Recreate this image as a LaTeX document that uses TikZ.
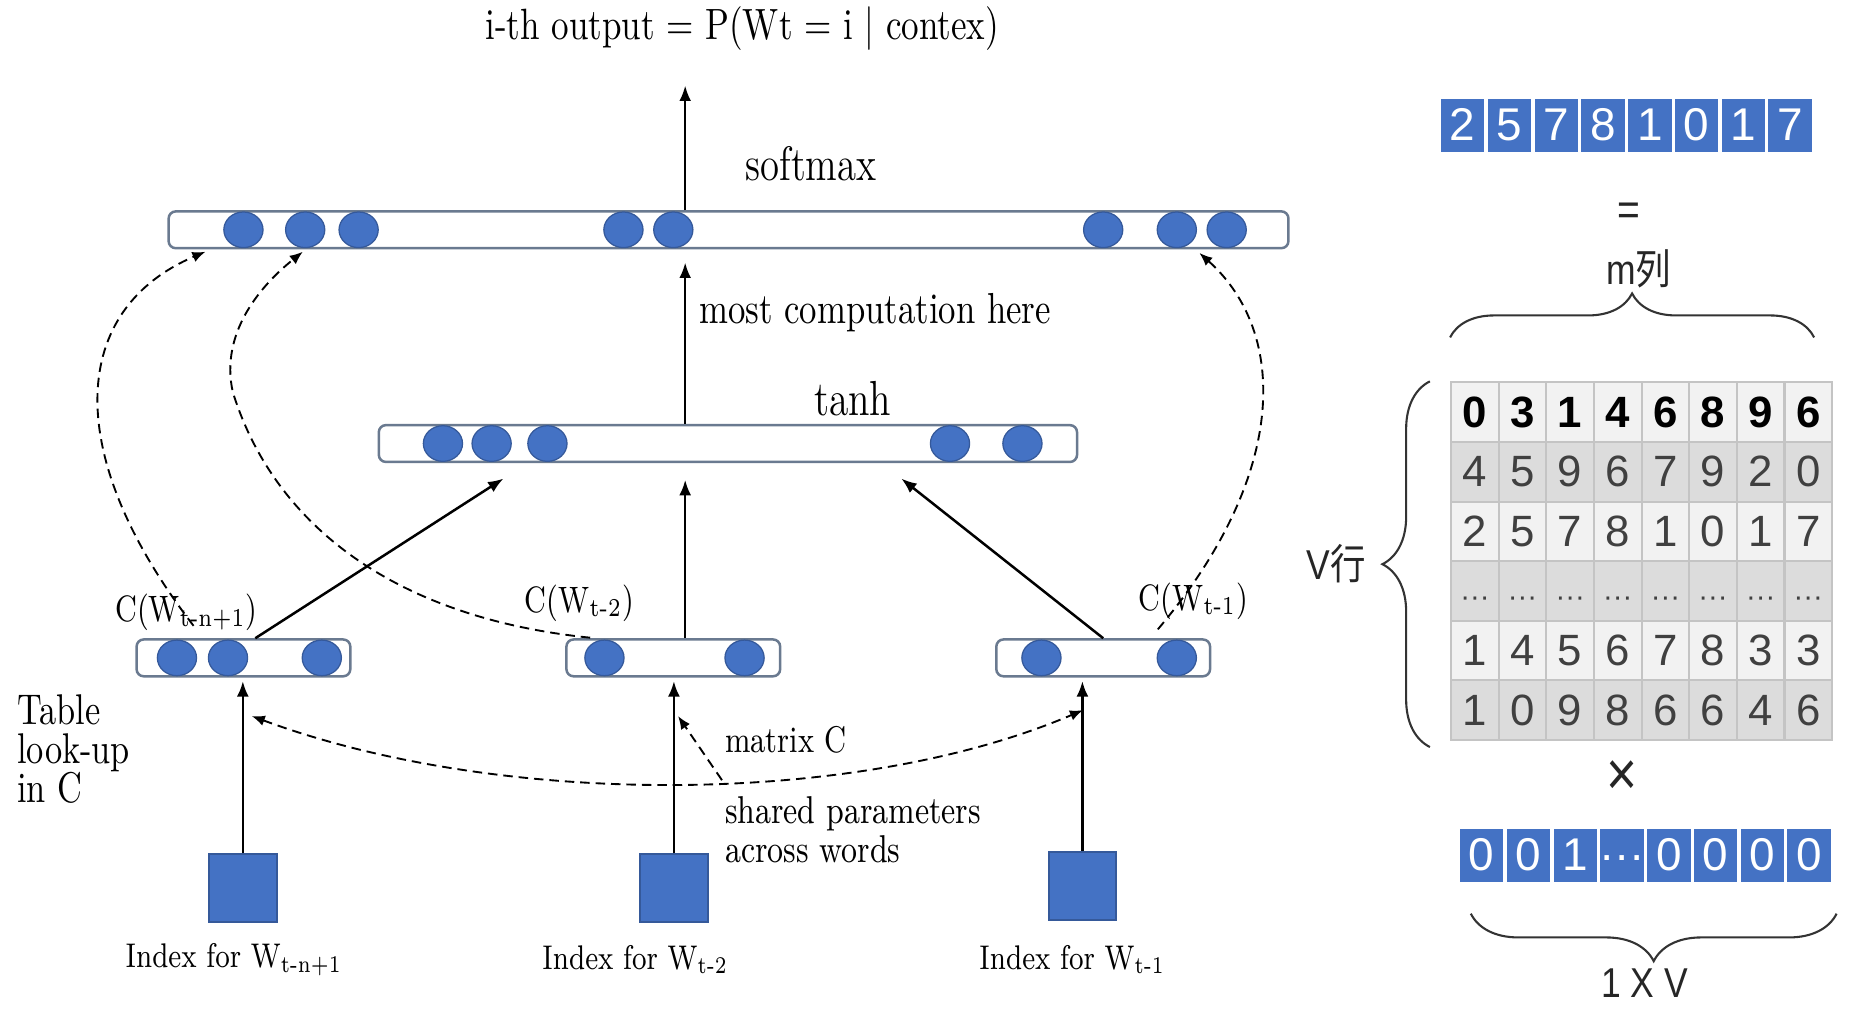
\documentclass[tikz,border=0pt]{standalone}
\usepackage{fontspec}
\newfontfamily\sansf{Liberation Sans}
\newfontfamily\cjk{Noto Sans CJK SC}
\usetikzlibrary{shapes.geometric}
\usetikzlibrary{positioning}
\usetikzlibrary{arrows.meta}
\usetikzlibrary{decorations.pathreplacing}
\definecolor{nodeblue}{HTML}{4472C4}
\definecolor{edgeblue}{HTML}{35599A}
\definecolor{barline}{HTML}{6A7A90}
\definecolor{rowlight}{HTML}{F2F2F2}
\definecolor{rowdark}{HTML}{DCDCDC}
\definecolor{gridgray}{HTML}{C4C4C4}
\definecolor{textgray}{HTML}{404040}
\tikzset{
    unitnode/.style = {ellipse, draw=edgeblue, line width=0.3pt, fill=nodeblue, minimum width=3.3mm, minimum height=3.0mm, inner sep=0pt},
    barnode/.style = {rectangle, rounded corners=0.6mm, draw=barline, line width=0.6pt, fill=white, inner sep=0pt, minimum height=3.1mm},
    sqnode/.style = {rectangle, draw=edgeblue, line width=0.5pt, fill=nodeblue, minimum size=5.7mm, inner sep=0pt},
    cellb/.style = {rectangle, draw=white, line width=0.8pt, fill=nodeblue, minimum width=3.94mm, minimum height=4.7mm, inner sep=0pt, text height=0.72em, text depth=0pt, text=white, font=\sansf\fontsize{11}{11}\selectfont},
    cellm/.style = {rectangle, draw=gridgray, line width=0.5pt, minimum width=4.01mm, minimum height=5.02mm, inner sep=0pt, text height=0.72em, text depth=0pt, text=textgray, font=\sansf\fontsize{10.5}{10.5}\selectfont},
    lbl/.style = {inner sep=0pt, xscale=0.8, font=\fontsize{10}{10}\selectfont},
    slbl/.style = {inner sep=0pt, xscale=0.85, text=black!85, font=\sansf\fontsize{10}{10}\selectfont},
    edgea/.style = {-{Latex[length=1.3mm,width=1mm]}, line width=0.6pt, black},
    edged/.style = {-{Latex[length=1.1mm,width=0.9mm]}, line width=0.45pt, black, dash pattern=on 0.8mm off 0.5mm},
    bracen/.style = {decorate, decoration={brace, amplitude=#1}, line width=0.5pt, black!80}
}

\begin{document}
\begin{tikzpicture}[x=0.1mm, y=-0.1mm]
\useasboundingbox (0,0) rectangle (1568,850.5);

% layers
\node[barnode, minimum width=94.3mm] (soft) at (613.5,193.5) {};
\node[barnode, minimum width=58.8mm] (tanh) at (613,373.5) {};
\node[barnode, minimum width=18mm] (e1) at (205,554) {};
\node[barnode, minimum width=18mm] (e2) at (567,554) {};
\node[barnode, minimum width=18mm] (e3) at (929,554) {};
\foreach \x [count=\i] in {205,257,302,525,567,929,991,1033}
    \node[unitnode] (s\i) at (\x,193.5) {};
\foreach \x [count=\i] in {373,414,461,800,861}
    \node[unitnode] (h\i) at (\x,373.5) {};
\foreach \x/\n in {149/a1,192/a2,271/a3,509/b1,627/b2,877/c1,991/c2}
    \node[unitnode] (\n) at (\x,554) {};
\node[sqnode] (w1) at (204.5,748) {};
\node[sqnode] (w2) at (567.5,748) {};
\node[sqnode] (w3) at (911.5,746) {};

% texts
\node[lbl, font=\fontsize{10.5}{10.5}\selectfont] (title) at (625,24) {i-th output = P(Wt = i | contex)};
\node[lbl, font=\fontsize{11.6}{11.6}\selectfont] (lsoft) at (683,138) {softmax};
\node[lbl, font=\fontsize{10.4}{10.4}\selectfont] (lmost) at (737,263) {most computation here};
\node[lbl, font=\fontsize{11.8}{11.8}\selectfont] (ltanh) at (718,336) {tanh};
\node[lbl, font=\fontsize{8.8}{8.8}\selectfont] (ce1) at (157,516) {C(W\textsubscript{t-n+1})};
\node[lbl, font=\fontsize{8.8}{8.8}\selectfont] (ce2) at (488,508) {C(W\textsubscript{t-2})};
\node[lbl, font=\fontsize{8.8}{8.8}\selectfont] (ce3) at (1005,506) {C(W\textsubscript{t-1})};
\node[lbl, align=left, anchor=north west, font=\fontsize{10.3}{9.4}\selectfont] (ltable) at (14,584) {Table\\look-up\\in C};
\node[lbl, anchor=west, font=\fontsize{8.9}{8.9}\selectfont] (lmat) at (610,623) {matrix C};
\node[lbl, align=left, anchor=north west, font=\fontsize{9.3}{7.9}\selectfont] (lshared) at (610,670) {shared parameters\\across words};
\node[lbl, font=\fontsize{8.2}{8.2}\selectfont] (i1) at (197,808) {Index for W\textsubscript{t-n+1}};
\node[lbl, font=\fontsize{8.2}{8.2}\selectfont] (i2) at (535,808) {Index for W\textsubscript{t-2}};
\node[lbl, font=\fontsize{8.2}{8.2}\selectfont] (i3) at (903,808) {Index for W\textsubscript{t-1}};

% solid arrows
\coordinate (out) at (577,72);
\coordinate (t1) at (424,403);
\coordinate (t3) at (759,403);
\draw[edgea] (out |- soft.north) -- (out);
\draw[edgea] (out |- tanh.north) -- ([yshift=-1.1mm]out |- soft.south);
\draw[edgea] (out |- e2.north) -- ([yshift=-1.4mm]out |- tanh.south);
\draw[edgea] ([xshift=1mm]e1.north) -- (t1);
\draw[edgea] (e3.north) -- (t3);
\draw[edgea] (w1.north) -- ([yshift=-0.3mm]w1.north |- e1.south);
\draw[edgea] (w2.north) -- ([yshift=-0.3mm]w2.north |- e2.south);
\draw[edgea] (w3.north) -- ([yshift=-0.3mm]w3.north |- e3.south);

% dashed arrows
\coordinate (f1) at (163,527);
\coordinate (f2) at (497,537);
\coordinate (f3) at (975,530);
\coordinate (d1) at (173,212);
\coordinate (d2) at (255,212);
\coordinate (d3) at (1010,213);
\draw[edged] (f1) .. controls (50,380) and (60,260) .. (d1);
\draw[edged] (f2) .. controls (330,520) and (230,440) .. (196,330) .. controls (185,280) and (220,240) .. (d2);
\draw[edged] (f3) .. controls (1085,400) and (1085,280) .. (d3);
\coordinate (p1) at (212,603);
\coordinate (p2) at (912,598);
\coordinate (mc) at (608,657);
\coordinate (mt) at (571,603);
\draw[edged, {Latex[length=1.1mm,width=0.9mm]}-{Latex[length=1.1mm,width=0.9mm]}] (p1) .. controls (420,680) and (720,680) .. (p2);
\draw[edged] (mc) -- (mt);

% right side
\foreach \v [count=\i] in {2,5,7,8,1,0,1,7}
    \node[cellb] (r\i) at ({1212+39.4*(\i-0.5)},105.5) {\v};
\node[slbl, font=\sansf\fontsize{11}{11}\selectfont] (eq) at (1372,180) {=};
\node[slbl] (mcol) at (1380,226) {m{\cjk 列}};
\foreach \row [count=\r] in {{0,3,1,4,6,8,9,6},{4,5,9,6,7,9,2,0},{2,5,7,8,1,0,1,7},{···,···,···,···,···,···,···,···},{1,4,5,6,7,8,3,3},{1,0,9,8,6,6,4,6}}
    \foreach \v [count=\c] in \row {
        \ifodd\r \def\cellfill{rowlight}\else \def\cellfill{rowdark}\fi
        \node[cellm, fill=\cellfill] (m\r-\c) at ({1222+40.1*(\c-0.5)},{322+50.2*(\r-0.5)}) {\ifnum\r=1 \bfseries\color{black}\fi\ifnum\r=4 \fontsize{7}{7}\selectfont\fi\v};
    }
\draw[bracen=3.7mm] ([yshift=3.7mm]m1-1.north west) -- ([xshift=-1.6mm,yshift=3.7mm]m1-8.north east);
\draw[bracen=4mm] ([xshift=-1.7mm,yshift=-0.5mm]m6-1.south west) -- ([xshift=-1.7mm]m1-1.north west);
\node[slbl] (vrow) at (1125,475) {V{\cjk 行}};
\node[slbl, font=\sansf\fontsize{15}{15}\selectfont] (times) at (1366,655) {×};
\foreach \v [count=\i] in {0,0,1,···,0,0,0,0}
    \node[cellb] (o\i) at ({1228+39.4*(\i-0.5)},720.5) {\v};
\draw[bracen=4mm] ([xshift=0.2mm,yshift=-2.4mm]o8.south east) -- ([xshift=1.2mm,yshift=-2.4mm]o1.south west);
\node[slbl] (dim) at (1385,828) {1 X V};

\end{tikzpicture}
\end{document}
